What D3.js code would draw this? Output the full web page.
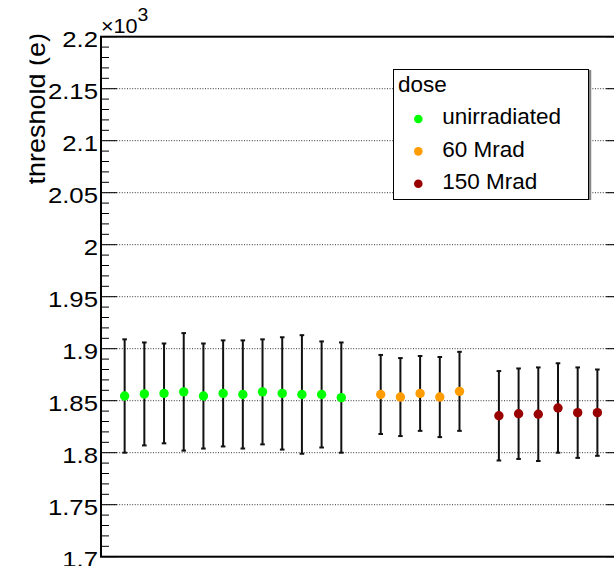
<!DOCTYPE html>
<html><head><meta charset="utf-8">
<script src="https://cdn.jsdelivr.net/npm/d3@7"></script>
<style>
html,body{margin:0;padding:0;background:#fff;}
svg{display:block;font-family:"Liberation Sans",Arial,Helvetica,sans-serif;}
</style></head>
<body>
<svg id="chart" width="614" height="566"></svg>
<script>
// ---- data (threshold in electrons) ----
const doseLabels = ["unirradiated", "60 Mrad", "150 Mrad"];
const doseColors = ["#00ff00", "#ff9c00", "#990000"];

const unirrIndex = [0,1,2,3,4,5,6,7,8,9,10,11];
const unirrThr   = [1854.5,1856.5,1857,1858.5,1854.5,1857,1856,1858.5,1857,1856,1856,1853];
const unirrErr   = [54.5,49.5,48,56.5,50.5,51,52,50.5,54,57,51,53];

const mrad60Index = [13,14,15,16,17];
const mrad60Thr   = [1856,1853.5,1857,1853.5,1859];
const mrad60Err   = [38,37.5,36,38.5,38];

const mrad150Index = [19,20,21,22,23,24];
const mrad150Thr   = [1835.5,1837.5,1837,1843,1838.5,1838.5];
const mrad150Err   = [43,43.5,45,43,43.5,41.5];

const yTicksMajor = [1700,1750,1800,1850,1900,1950,2000,2050,2100,2150,2200];
const yTickLabels = ["1.7","1.75","1.8","1.85","1.9","1.95","2","2.05","2.1","2.15","2.2"];
const yTicksMinor = d3.range(1700, 2201, 10);
const yTitle = "threshold (e)";
const legendTitle = "dose";

// ---- layout ----
const frame = {left:101, right:622, top:36.7, bottom:556.7};
const x = d3.scaleLinear().domain([-1.2, 25.25]).range([frame.left, frame.right]);
const y = d3.scaleLinear().domain([1700, 2200]).range([frame.bottom, frame.top]);

const svg = d3.select("#chart");
const defs = svg.append("defs");
defs.append("clipPath").attr("id", "titleClip")
  .append("rect").attr("x", 29.5).attr("y", 0).attr("width", 100).attr("height", 566);

// gridlines
svg.append("g").selectAll("line")
  .data(yTicksMajor.slice(1, -1)).join("line")
  .attr("x1", frame.left).attr("x2", frame.right)
  .attr("y1", d => y(d)).attr("y2", d => y(d))
  .attr("stroke", "#333").attr("stroke-width", 1)
  .attr("stroke-dasharray", "1,1.6");

// left axis ticks (inside)
const ticksG = svg.append("g");
ticksG.selectAll("line.minL").data(yTicksMinor).join("line")
  .attr("x1", frame.left).attr("x2", d => frame.left + (d % 50 === 0 ? 16 : 8))
  .attr("y1", d => y(d)).attr("y2", d => y(d))
  .attr("stroke", "#000").attr("stroke-width", 1);
// right axis ticks (inside)
ticksG.selectAll("line.minR").data(yTicksMinor).join("line")
  .attr("x1", frame.right).attr("x2", d => frame.right - (d % 50 === 0 ? 16 : 8))
  .attr("y1", d => y(d)).attr("y2", d => y(d))
  .attr("stroke", "#000").attr("stroke-width", 1);

// frame
svg.append("rect")
  .attr("x", frame.left).attr("y", frame.top)
  .attr("width", frame.right - frame.left).attr("height", frame.bottom - frame.top)
  .attr("fill", "none").attr("stroke", "#000").attr("stroke-width", 2);

// tick labels
svg.append("g").selectAll("text")
  .data(yTicksMajor).join("text")
  .attr("transform", d => `translate(98,${y(d) + 10}) scale(1.12,1)`)
  .attr("text-anchor", "end")
  .attr("font-size", 23)
  .attr("fill", "#000")
  .text((d, i) => yTickLabels[i]);

// exponent
const expo = svg.append("text")
  .attr("transform", "translate(101,33.3) scale(1.08,1)")
  .attr("font-size", 20).attr("fill", "#000");
expo.append("tspan").text("\u00d710");
expo.append("tspan").attr("dy", -12.6).attr("font-size", 18).text("3");

// y title (clipped at the left like the reference)
svg.append("g").attr("clip-path", "url(#titleClip)")
  .append("text")
  .attr("transform", "translate(45,33) rotate(-90) scale(1.08,1)")
  .attr("text-anchor", "end")
  .attr("font-size", 25).attr("fill", "#000")
  .text(yTitle);

// series
const series = [
  {idx: unirrIndex, thr: unirrThr, err: unirrErr, color: doseColors[0]},
  {idx: mrad60Index, thr: mrad60Thr, err: mrad60Err, color: doseColors[1]},
  {idx: mrad150Index, thr: mrad150Thr, err: mrad150Err, color: doseColors[2]}
];
series.forEach(s => {
  const pts = s.idx.map((k, i) => ({k, v: s.thr[i], e: s.err[i]}));
  const g = svg.append("g");
  g.selectAll("line.bar").data(pts).join("line")
    .attr("x1", d => x(d.k)).attr("x2", d => x(d.k))
    .attr("y1", d => y(d.v - d.e)).attr("y2", d => y(d.v + d.e))
    .attr("stroke", "#111").attr("stroke-width", 2);
  ["lo","hi"].forEach(w => {
    g.selectAll("line.cap" + w).data(pts).join("line")
      .attr("x1", d => x(d.k) - 2.3).attr("x2", d => x(d.k) + 2.3)
      .attr("y1", d => y(w === "lo" ? d.v - d.e : d.v + d.e))
      .attr("y2", d => y(w === "lo" ? d.v - d.e : d.v + d.e))
      .attr("stroke", "#111").attr("stroke-width", 2);
  });
  g.selectAll("circle").data(pts).join("circle")
    .attr("cx", d => x(d.k)).attr("cy", d => y(d.v))
    .attr("r", 4.7).attr("fill", s.color);
});

// legend
const lg = svg.append("g");
lg.append("line").attr("x1", 590).attr("x2", 590).attr("y1", 70).attr("y2", 200)
  .attr("stroke", "#888").attr("stroke-width", 2.5);
lg.append("rect").attr("x", 393.5).attr("y", 69.5).attr("width", 195).attr("height", 130)
  .attr("fill", "#fff").attr("stroke", "#000").attr("stroke-width", 1);
lg.append("text").attr("x", 398).attr("y", 91.7).attr("font-size", 22.5).attr("fill", "#000").text(legendTitle);
const rowY = d3.scaleLinear().domain([0, 2]).range([124.3, 189]);
doseLabels.forEach((lab, i) => {
  lg.append("circle").attr("cx", 418.3).attr("cy", rowY(i) - 5.3).attr("r", 4.3).attr("fill", doseColors[i]);
  lg.append("text").attr("x", 442.3).attr("y", rowY(i)).attr("font-size", 22.5).attr("fill", "#000").text(lab);
});
</script>
</body></html>
